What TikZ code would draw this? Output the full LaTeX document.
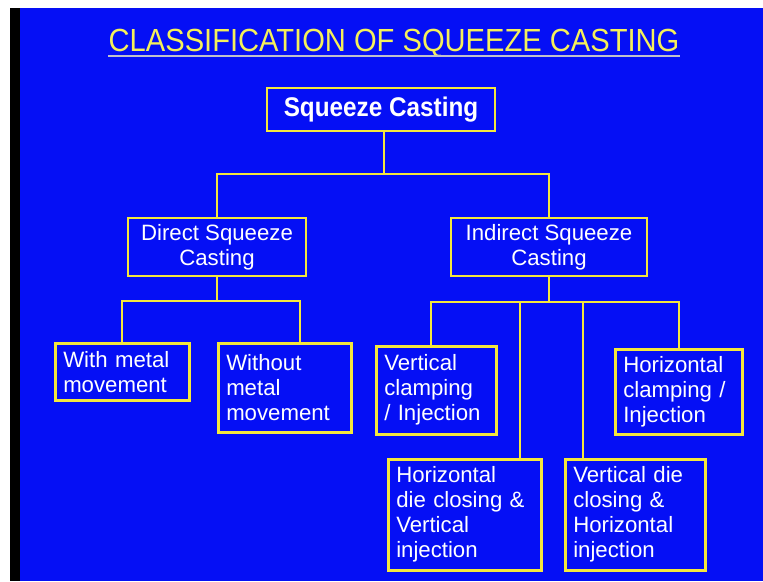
\documentclass[tikz,border=0pt]{standalone}
\usepackage{fontspec}
\setmainfont{Liberation Sans}
\usepackage{graphicx}
\definecolor{slideblue}{RGB}{5,15,245}
\definecolor{boxyellow}{RGB}{245,232,60}
\definecolor{titleyellow}{RGB}{245,240,90}
\definecolor{lineshade}{RGB}{150,150,170}

\begin{document}
\begin{tikzpicture}[x=1pt, y=-1pt,
    box/.style={draw=boxyellow, line width=2.5pt, text=white, anchor=north west,
        inner xsep=8pt, inner ysep=0pt, align=left, font=\fontsize{22.2}{25}\selectfont},
    midbox/.style={box, anchor=center, align=center},
    conn/.style={draw=boxyellow, line width=2.5pt}
]
% Fond
\useasboundingbox (0,0) rectangle (763,581);
\fill[white] (0,0) rectangle (763,581);
\fill[black] (10,8) rectangle (20,581);
\fill[slideblue] (20,8) rectangle (763,581);

% Titre
\node[text=titleyellow, font=\fontsize{32}{32}\selectfont, inner sep=0pt] (title) at (394,43)
    {\scalebox{0.91}[1]{CLASSIFICATION OF SQUEEZE CASTING}};
\draw[lineshade!60!white, line width=2pt] ([yshift=-4.5pt]title.base west) -- ([yshift=-4.5pt]title.base east);

% Racine
\node[midbox, minimum width=228pt, minimum height=43pt,
    font=\fontsize{27}{27}\selectfont\bfseries] (root) at (381,109.5)
    {\scalebox{0.9}[1]{Squeeze Casting}};

% Niveau 1
\node[midbox, minimum width=178pt, minimum height=58pt] (direct) at (217,247)
    {Direct Squeeze\\Casting};
\node[midbox, minimum width=196pt, minimum height=58pt] (indirect) at (549,247)
    {Indirect Squeeze\\Casting};

% Niveau 2 : coulée directe
\node[box, text width=118pt, minimum height=57pt] (withm) at (54,342)
    {With metal\\movement};
\node[box, text width=117pt, minimum height=89pt] (withoutm) at (217,342)
    {Without\\metal\\movement};

% Niveau 2 : coulée indirecte
\node[box, text width=104pt, minimum height=88pt] (vclamp) at (375,345)
    {Vertical\\clamping\\/ Injection};
\node[box, text width=111pt, minimum height=85pt] (hclamp) at (614,348)
    {Horizontal\\clamping /\\Injection};
\node[box, text width=137pt, minimum height=111pt] (hdie) at (387,458)
    {Horizontal\\die closing \&\\Vertical\\injection};
\node[box, text width=124pt, minimum height=111pt] (vdie) at (564,458)
    {Vertical die\\closing \&\\Horizontal\\injection};

% Connexions
\coordinate (j0) at (384,174);
\coordinate (j0l) at (217,174);
\coordinate (j0r) at (549,174);
\draw[conn] (root.south -| j0) -- (j0);
\draw[conn, line cap=rect] (j0l) -- (j0r);
\draw[conn] (j0l) -- (direct.north);
\draw[conn] (j0r) -- (indirect.north);

\coordinate (j1l) at (122,301);
\coordinate (j1r) at (300,301);
\draw[conn] (direct.south) -- (direct.south |- j1l);
\draw[conn, line cap=rect] (j1l) -- (j1r);
\draw[conn] (j1l) -- (j1l |- withm.north);
\draw[conn] (j1r) -- (j1r |- withoutm.north);

\coordinate (j2a) at (431,302);
\coordinate (j2b) at (520,302);
\coordinate (j2c) at (583,302);
\coordinate (j2d) at (679,302);
\draw[conn] (indirect.south) -- (indirect.south |- j2a);
\draw[conn, line cap=rect] (j2a) -- (j2d);
\draw[conn] (j2a) -- (j2a |- vclamp.north);
\draw[conn] (j2b) -- (j2b |- hdie.north);
\draw[conn] (j2c) -- (j2c |- vdie.north);
\draw[conn] (j2d) -- (j2d |- hclamp.north);

\end{tikzpicture}
\end{document}
